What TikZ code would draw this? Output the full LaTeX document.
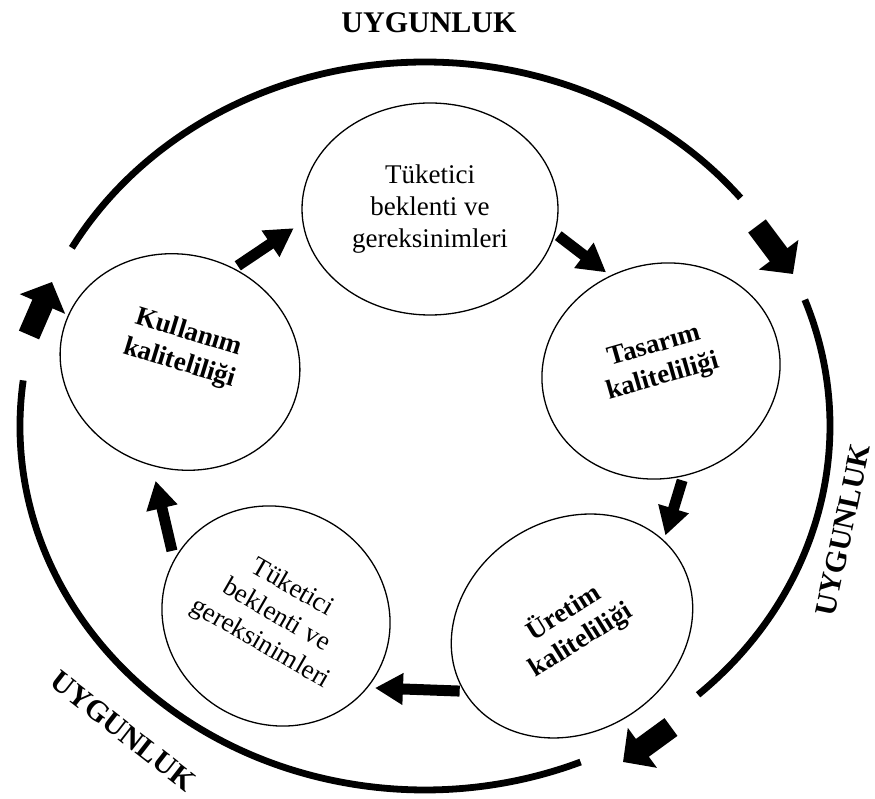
\documentclass[tikz,border=0pt]{standalone}
\usepackage{fontspec}
\setmainfont{Liberation Serif}
\usetikzlibrary{arrows.meta, shapes.geometric}

\tikzset{
    cell/.style={draw, ellipse, line width=0.65pt, inner sep=0pt, align=center,
        font=\fontsize{13.5}{16}\selectfont},
    boldcell/.style={cell, font=\fontsize{13.5}{16}\selectfont\bfseries},
    ring/.style={line width=3.4pt},
    inarrow/.style={line width=5.5pt, -{Triangle[length=14pt, width=15pt]}},
    ringarrow/.style={line width=11pt, -{Triangle[length=12pt, width=24pt]}},
    tag/.style={font=\fontsize{15}{18}\selectfont\bfseries, inner sep=1pt}
}

\begin{document}
\begin{tikzpicture}[x=0.5pt, y=0.5pt]
    \useasboundingbox (0,0) rectangle (875,799);

    % Outer ring
    \coordinate (ringc) at (425,373);
    \foreach \s/\e in {38.8/150.7, -47.6/20.3, 172.8/292.6}
        \draw[ring] (ringc) ++(\s:405 and 364) arc[start angle=\s, end angle=\e, x radius=405, y radius=364];

    % Ring arrows
    \coordinate (ra1) at (29,464);  \coordinate (rb1) at (52,517);
    \coordinate (ra2) at (757,573); \coordinate (rb2) at (793,525);
    \coordinate (ra3) at (671,72);  \coordinate (rb3) at (623,37);
    \foreach \i in {1,2,3}
        \draw[ringarrow] (ra\i) -- (rb\i);

    % Labels
    \node[tag] (uyg1) at (429,776) {UYGUNLUK};
    \node[tag, rotate=78] (uyg2) at (843,269) {UYGUNLUK};
    \node[tag, rotate=-38] (uyg3) at (123,68) {UYGUNLUK};

    % Cycle
    \node[cell, minimum width=128pt, minimum height=106pt] (need) at (430,590) {Tüketici\\beklenti ve\\gereksinimleri};
    \node[boldcell, rotate=16, text depth=12pt, minimum width=120pt, minimum height=107pt] (design) at (661,428) {Tasarım\\kaliteliliği};
    \node[boldcell, rotate=32, minimum width=126pt, minimum height=106pt] (prod) at (572,173) {Üretim\\kaliteliliği};
    \node[cell, rotate=-30, minimum width=116pt, minimum height=108pt] (need2) at (276,183) {Tüketici\\beklenti ve\\gereksinimleri};
    \node[boldcell, rotate=-17, text depth=17pt, minimum width=121pt, minimum height=107pt] (use) at (180,437) {Kullanım\\kaliteliliği};

    \foreach \a/\b/\p/\q in {use.77/need.186.7/2.2/5.2, need.-11.5/design.102.6/1.9/2.6,
        design.-94.1/prod.11.1/2.1/2.5, prod.179.1/need2.-8.7/1.9/3.6, need2.181.8/use.-88.2/4.4/7.6}
        \draw[inarrow, shorten <=\p pt, shorten >=\q pt] (\a) -- (\b);
\end{tikzpicture}
\end{document}
